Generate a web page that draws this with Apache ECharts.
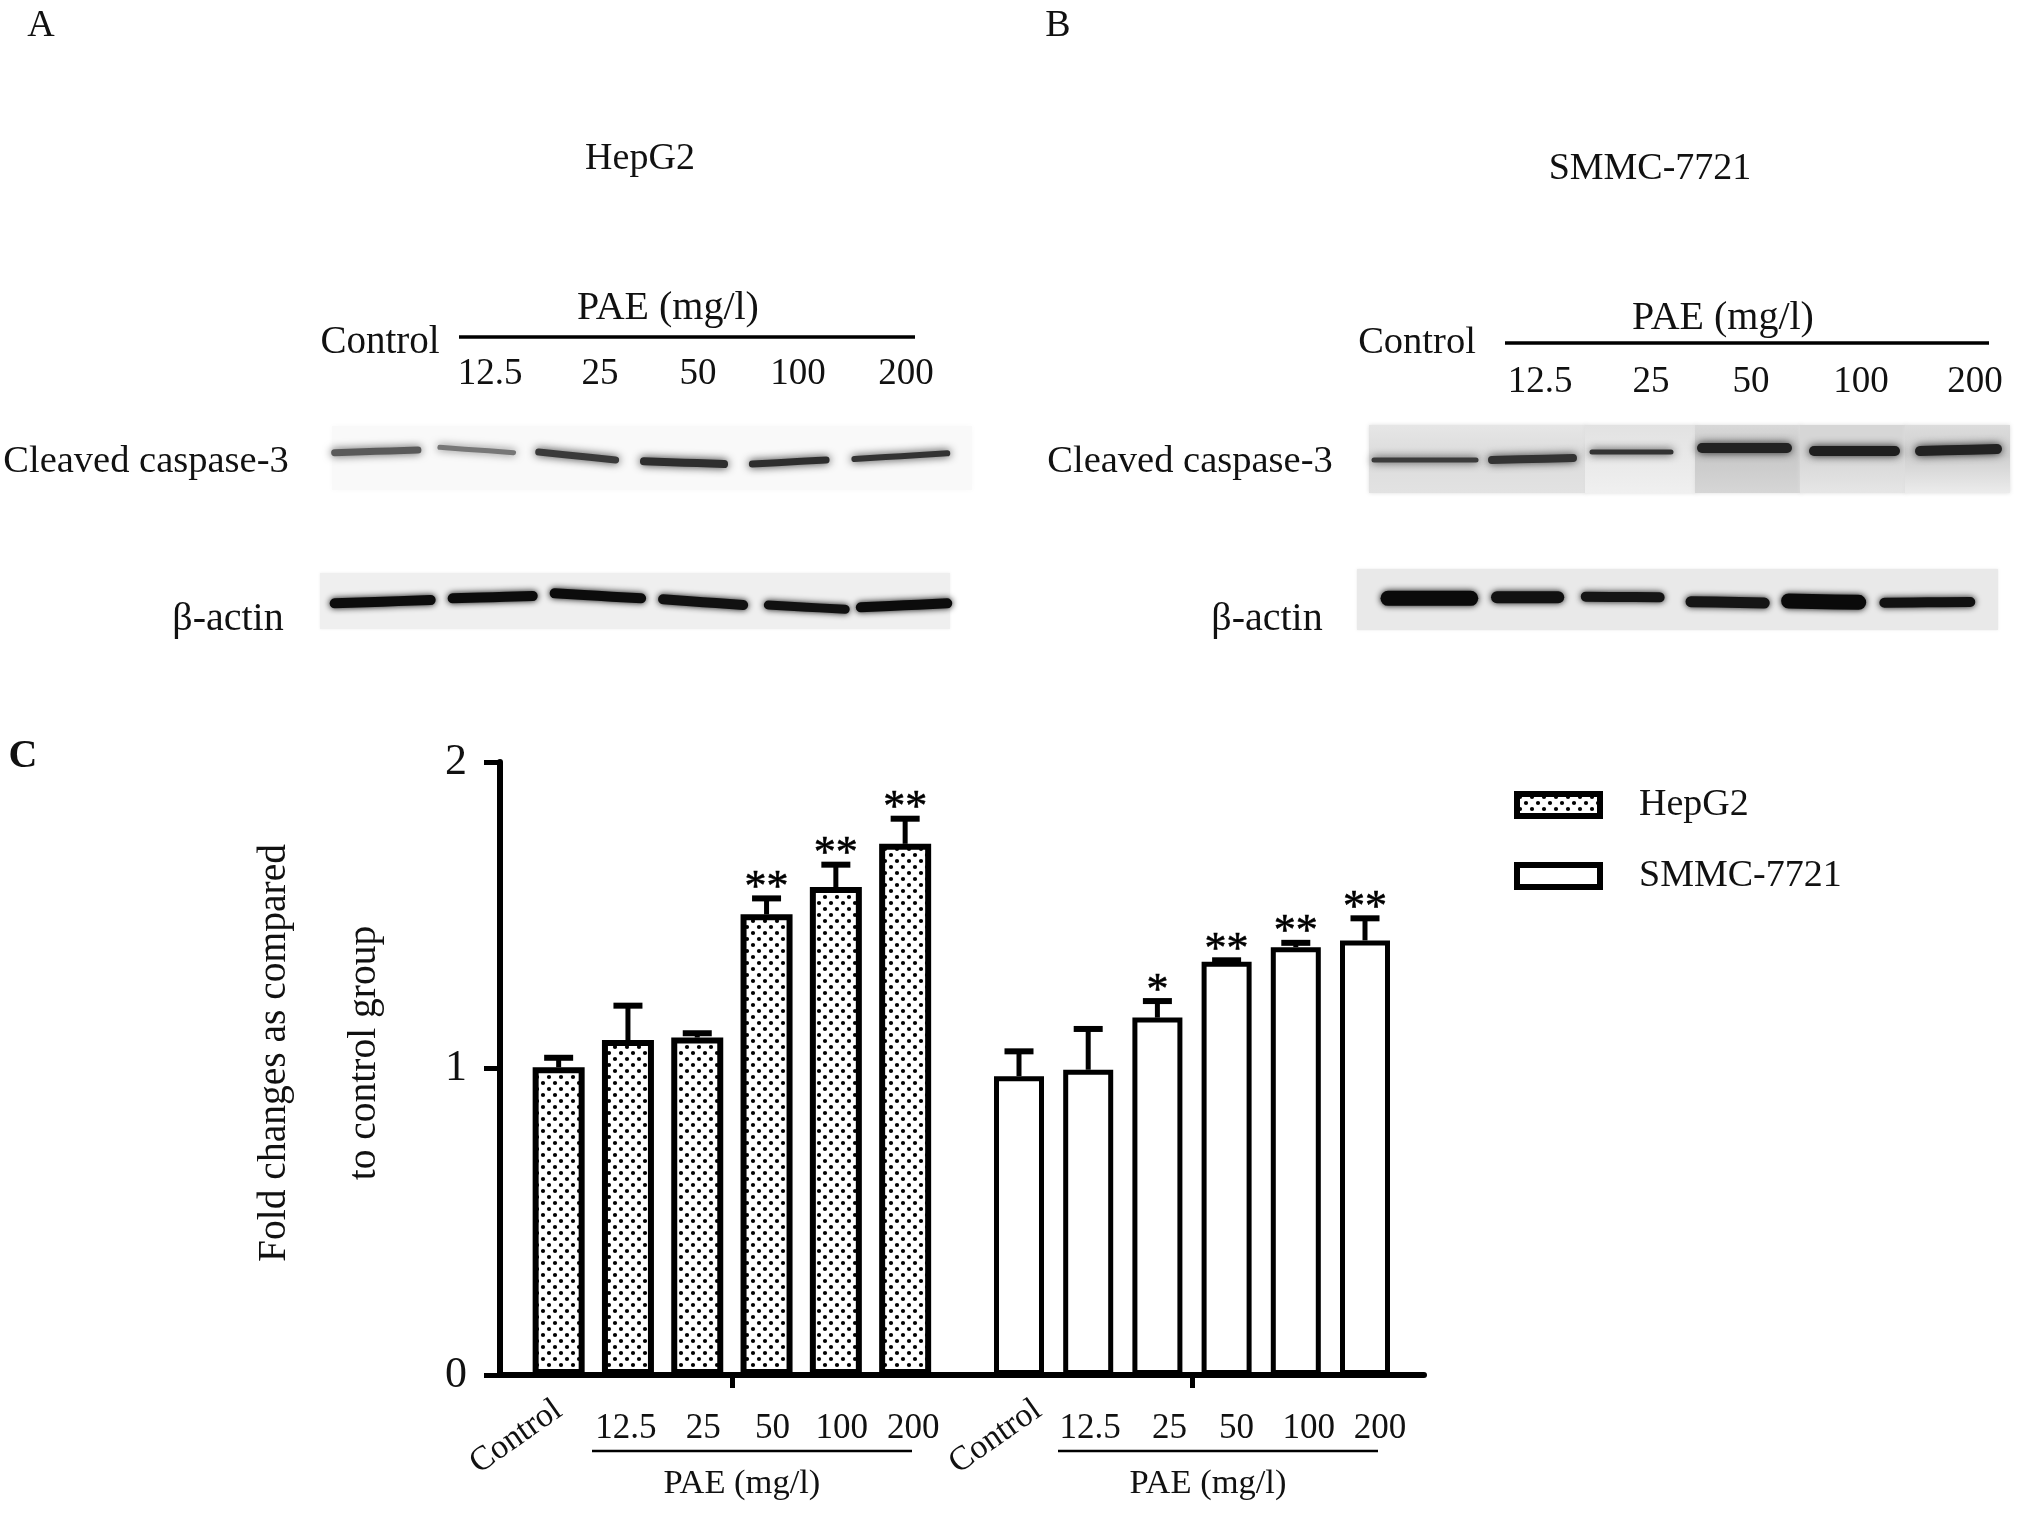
<!DOCTYPE html>
<html><head><meta charset="utf-8">
<style>html,body{margin:0;padding:0;background:#fff}#c{width:2024px;height:1518px}</style>
<script src="https://cdn.jsdelivr.net/npm/echarts@6/dist/echarts.min.js"></script>
</head><body><div id="c"></div>
<script>
// ---- data ----
const doseLabels = ['Control','12.5','25','50','100','200'];
const hepg2Values = [1.004,1.093,1.101,1.503,1.592,1.733];
const hepg2ErrTop = [1.035,1.205,1.115,1.555,1.665,1.815];
const hepg2Stars  = ['','','','**','**','**'];
const smmcValues  = [0.975,0.996,1.166,1.348,1.396,1.418];
const smmcErrTop  = [1.056,1.129,1.22,1.353,1.41,1.49];
const smmcStars   = ['','','*','**','**','**'];
const yTicks = [0,1,2];

// ---- styling ----
const FONT = '"Liberation Serif","Times New Roman",serif';
const INK = '#000';
function dotPattern(){
  const c=document.createElement('canvas');c.width=12;c.height=12;
  const g=c.getContext('2d');g.fillStyle='#fff';g.fillRect(0,0,12,12);g.fillStyle='#000';
  [[3,3],[9,9]].forEach(p=>{g.beginPath();g.arc(p[0],p[1],2.1,0,7);g.fill();});
  return c;
}
const dots={image:dotPattern(),repeat:'repeat'};
const TOP=762,BOTTOM=1375,H=BOTTOM-TOP;

function errSeries(name,values,tops,stars,idx){
  return {type:'custom',name:name,xAxisIndex:idx,yAxisIndex:idx,silent:true,z:3,
    data:tops.map((t,i)=>[i,t]),encode:{x:0,y:1},
    renderItem(params,api){
      const i=api.value(0),t=api.coord([i,api.value(1)]),b=api.coord([i,values[i]]);
      const ln=(x1,y1,x2,y2,w)=>({type:'line',shape:{x1,y1,x2,y2},style:{stroke:INK,lineWidth:w}});
      const kids=[ln(t[0],t[1],b[0],b[1],5),ln(t[0]-14.5,t[1],t[0]+14.5,t[1],6)];
      if(stars[i])kids.push({type:'text',style:{text:stars[i],x:t[0],y:t[1]-10,align:'center',verticalAlign:'middle',font:'44px '+FONT,fill:INK,stroke:INK,lineWidth:0.6}});
      return {type:'group',children:kids};
    }};
}
const shiftsA=[0,-2,6,6,6,8], shiftsB=[0,2,12,10,13,15];
function richFor(shifts){const r={};shifts.forEach((s,i)=>{r['t'+i]={fontFamily:FONT,fontSize:35,color:'#111',padding:s>0?[0,0,0,2*s]:[0,2*-s,0,0]};});return r;}
function doseAxis(gi,shifts,namePad){return {type:'category',gridIndex:gi,position:'bottom',data:doseLabels,
  axisLine:{show:false},axisTick:{show:false},
  name:'PAE (mg/l)',nameLocation:'middle',nameGap:91,
  nameTextStyle:{fontFamily:FONT,fontSize:34.5,color:'#111',padding:[0,0,0,namePad]},
  axisLabel:{interval:0,margin:36,hideOverlap:false,rich:richFor(shifts),
    formatter:(v,i)=>i===0?'':'{t'+i+'|'+v+'}'}};}
function ctrlAxis(gi){return {type:'category',gridIndex:gi,position:'bottom',data:doseLabels,
  axisLine:{show:false},axisTick:{show:false},
  axisLabel:{interval:0,rotate:35,margin:32,fontFamily:FONT,fontSize:34,color:'#111',hideOverlap:false,
    formatter:(v,i)=>i===0?v:''}};}

// ---- panels A, B (western blots), drawn as page decoration ----
const gr=[];
function txt(s,cx,cy,size,opt){gr.push({type:'text',z:10,style:Object.assign({text:s,x:cx,y:cy+2,align:'center',verticalAlign:'middle',font:size+'px '+FONT,fill:'#111'},opt||{})});}
function rule(x1,x2,y,w){gr.push({type:'line',z:10,shape:{x1,y1:y,x2,y2:y},style:{stroke:INK,lineWidth:w}});}
function box(x1,y1,x2,y2,fill,blur){gr.push({type:'rect',z:1,shape:{x:x1,y:y1,width:x2-x1,height:y2-y1},style:{fill,shadowBlur:blur||5,shadowColor:typeof fill==='string'?fill:'#ddd'}});}
function vgrad(a,b,c){return new echarts.graphic.LinearGradient(0,0,0,1,[{offset:0,color:a},{offset:0.45,color:b},{offset:1,color:c}]);}
function band(pts,w,col,blur){gr.push({type:'polyline',z:2,shape:{points:pts,smooth:0.4},style:{stroke:col,fill:null,lineWidth:w,lineCap:'round',shadowBlur:blur||9,shadowColor:col}});}
const ax=x=>x/1.568, bx=x=>1030+x/1.5775, zy=y=>270+y/3.0;
function mk(fx,x1,x2,y1,y2){const xm=(x1+x2)/2;return [[fx(x1)+3,zy(y1)],[fx(xm),zy((y1+y2)/2)],[fx(x2)-3,zy(y2)]];}

txt('A',41,24,38);txt('B',1058,24,38);txt('C',23,755,42,{font:'bold 40px '+FONT});
txt('HepG2',640,157,38);txt('SMMC-7721',1650,167,38);
// panel A labels
txt('Control',380,341,39);txt('PAE (mg/l)',668,306,40);rule(459,915,337,3.5);
[['12.5',490],['25',600],['50',698],['100',798],['200',906]].forEach(p=>txt(p[0],p[1],372,37));
txt('Cleaved caspase-3',146,460,38.5);txt('\u03b2-actin',228,617,40);
// panel B labels
txt('Control',1417,341,38.5);txt('PAE (mg/l)',1723,316,40);rule(1505,1989,343,3.5);
[['12.5',1540],['25',1651],['50',1751],['100',1861],['200',1975]].forEach(p=>txt(p[0],p[1],380,37));
txt('Cleaved caspase-3',1190,460,38.5);txt('\u03b2-actin',1267,617,40);
// panel A blots
box(332,426,972,490,'#f9f9f9',6);
[[520,660,548,540,7,'#5a5a5a'],[685,810,532,548,5,'#777'],[840,970,546,570,7,'#3a3a3a'],[1005,1140,574,582,8,'#2e2e2e'],[1175,1300,582,570,7,'#2e2e2e'],[1335,1490,567,550,6,'#333']]
 .forEach(b=>band(mk(ax,b[0],b[1],b[2],b[3]),b[4],b[5]));
box(320,573,950,629,'#efefef',3);
[[520,680,1000,990,10,'#0c0c0c'],[705,840,985,978,10,'#0c0c0c'],[865,1010,970,985,10,'#0c0c0c'],[1035,1170,988,1005,10,'#111'],[1200,1330,1005,1018,9,'#111'],[1345,1490,1012,1000,10,'#0c0c0c']]
 .forEach(b=>band(mk(ax,b[0],b[1],b[2],b[3]),b[4],b[5],6));
// panel B blots
box(1369,425,1587,493,vgrad('#e6e6e6','#dcdcdc','#e2e2e2'),4);
box(1585,425,1697,493,vgrad('#e2e2e2','#e8e8e8','#f0f0f0'),4);
box(1695,425,1802,493,vgrad('#d8d8d8','#c8c8c8','#d6d6d6'),4);
box(1800,425,1907,493,vgrad('#d6d6d6','#d6d6d6','#e6e6e6'),4);
box(1905,425,2010,493,vgrad('#dcdcdc','#cfcfcf','#ececec'),4);
[[1374,1476,460,460,5,'#3c3c3c'],[1492,1573,460,458,8,'#333'],[1592,1671,452,452,5,'#333'],[1702,1787,448,448,10,'#222'],[1814,1895,451,451,10,'#1e1e1e'],[1920,1997,451,449,10,'#222']]
 .forEach(b=>band([[b[0],b[2]],[(b[0]+b[1])/2,(b[2]+b[3])/2],[b[1],b[3]]],b[4],b[5]));
box(1357,569,1998,630,'#e9e9e9',2);
[[560,700,985,985,15,'#0a0a0a'],[732,838,982,982,12,'#111'],[872,998,980,982,10,'#151515'],[1038,1163,995,999,11,'#151515'],[1192,1312,993,997,15,'#0a0a0a'],[1343,1488,998,996,10,'#111']]
 .forEach(b=>band(mk(bx,b[0],b[1],b[2],b[3]),b[4],b[5],6));

// ---- panel C ----
const option={
  animation:false,backgroundColor:'#fff',
  textStyle:{fontFamily:FONT},
  graphic:gr.concat([
    {type:'line',z:10,shape:{x1:592,y1:1451,x2:912,y2:1451},style:{stroke:INK,lineWidth:2.5}},
    {type:'line',z:10,shape:{x1:1058,y1:1451,x2:1378,y2:1451},style:{stroke:INK,lineWidth:2.5}}
  ]),
  legend:{orient:'vertical',left:1514,top:786,padding:0,itemWidth:83,itemHeight:22,itemGap:33,icon:'rect',
    data:['HepG2','SMMC-7721'],selectedMode:false,
    itemStyle:{borderColor:INK,borderWidth:6},
    textStyle:{fontFamily:FONT,fontSize:38,color:'#111',padding:[0,0,8,34]}},
  grid:[
    {left:500,top:TOP,width:924,height:H},
    {left:524,top:TOP,width:415.8,height:H},
    {left:984.4,top:TOP,width:415.2,height:H},
    {left:1003.4,top:TOP,width:415.2,height:H}
  ],
  xAxis:[
    {type:'value',gridIndex:0,min:500,max:1424,position:'bottom',splitLine:{show:false},
     axisLine:{show:true,onZero:false,lineStyle:{color:INK,width:6}},
     axisLabel:{show:false},
     axisTick:{show:true,length:13,customValues:[732,1192],lineStyle:{color:INK,width:5}}},
    doseAxis(1,shiftsA,20),
    doseAxis(2,shiftsB,32),
    ctrlAxis(1),
    ctrlAxis(3)
  ],
  yAxis:[
    {type:'value',gridIndex:0,min:0,max:2,interval:1,position:'left',splitLine:{show:false},
     axisLine:{show:true,onZero:false,lineStyle:{color:INK,width:6}},
     axisTick:{show:true,length:16,lineStyle:{color:INK,width:5}},
     axisLabel:{fontFamily:FONT,fontSize:44,color:'#111',margin:33,padding:[5,0,0,0],formatter:v=>yTicks.includes(v)?String(v):''},
     name:'Fold changes as compared\nto control group',nameLocation:'middle',nameGap:90,
     nameTextStyle:{fontFamily:FONT,fontSize:39.5,color:'#111',lineHeight:90,padding:[0,0,0,31]}},
    {type:'value',gridIndex:1,min:0,max:2,show:false},
    {type:'value',gridIndex:2,min:0,max:2,show:false},
    {type:'value',gridIndex:3,min:0,max:2,show:false}
  ],
  series:[
    {type:'bar',name:'HepG2',xAxisIndex:1,yAxisIndex:1,data:hepg2Values,barWidth:52,z:2,
     itemStyle:{color:dots,borderColor:INK,borderWidth:6}},
    {type:'bar',name:'SMMC-7721',xAxisIndex:2,yAxisIndex:2,data:smmcValues,barWidth:50,z:2,
     itemStyle:{color:'#fff',borderColor:INK,borderWidth:5}},
    errSeries('HepG2 error',hepg2Values,hepg2ErrTop,hepg2Stars,1),
    errSeries('SMMC-7721 error',smmcValues,smmcErrTop,smmcStars,2)
  ]
};
echarts.init(document.getElementById('c'),null,{renderer:'canvas'}).setOption(option);
</script></body></html>
